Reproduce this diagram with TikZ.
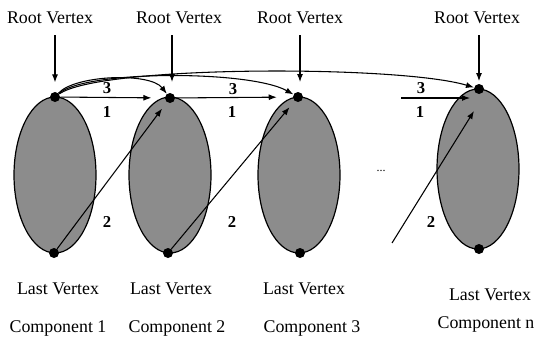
\documentclass[tikz,border=0pt]{standalone}
\usepackage{fontspec}
\setmainfont{Liberation Serif}
\usetikzlibrary{shapes.geometric,arrows.meta}
\begin{document}
\begin{tikzpicture}[x=0.75pt,y=-0.75pt,
  comp/.style={ellipse,draw=black,line width=0.9pt,fill=black!45,minimum width=61.5pt,minimum height=117pt,inner sep=0pt},
  vdot/.style={circle,fill=black,minimum size=7.5pt,inner sep=0pt},
  lbl/.style={font=\fontsize{13.4}{15}\selectfont},
  num/.style={font=\fontsize{12.5}{14}\selectfont\bfseries},
  arr/.style={-{Latex[length=6pt,width=4.5pt]},line width=0.8pt}]
\useasboundingbox (0,0) rectangle (542,339);
% components
\node[comp] (e1) at (55,175) {};
\node[comp] (e2) at (170,175) {};
\node[comp] (e3) at (299,175) {};
\node[comp,minimum height=120pt] (en) at (478,169) {};
% vertices
\node[vdot] (r1) at (55,97) {};
\node[vdot] (r2) at (170,98) {};
\node[vdot] (r3) at (298,97) {};
\node[vdot] (rn) at (479,89) {};
\node[vdot] (l1) at (54,253) {};
\node[vdot] (l2) at (168,253) {};
\node[vdot] (l3) at (300,253) {};
\node[vdot] (ln) at (479,249) {};
% labels
\node[lbl] (rv1) at (50,18) {Root Vertex};
\node[lbl] (rv2) at (179,18) {Root Vertex};
\node[lbl] (rv3) at (300,18) {Root Vertex};
\node[lbl] (rvn) at (477,18) {Root Vertex};
\node[lbl] (lv1) at (58,289) {Last Vertex};
\node[lbl] (lv2) at (171,289) {Last Vertex};
\node[lbl] (lv3) at (304,289) {Last Vertex};
\node[lbl] (lvn) at (490,295) {Last Vertex};
\node[lbl] (c1) at (58,328) {Component 1};
\node[lbl] (c2) at (177,328) {Component 2};
\node[lbl] (c3) at (312,328) {Component 3};
\node[lbl] (cn) at (486,324) {Component n};
\node[font=\fontsize{9}{10}\selectfont] (dots) at (381,171) {...};
% edge labels
\node[num] (k31) at (107,88) {3};
\node[num] (k11) at (107,112) {1};
\node[num] (k32) at (233,89) {3};
\node[num] (k12) at (232,112) {1};
\node[num] (k3n) at (421,88) {3};
\node[num] (k1n) at (420,112) {1};
\node[num] (k21) at (107,222) {2};
\node[num] (k22) at (232,222) {2};
\node[num] (k2n) at (431,222) {2};
% root vertex pointers
\coordinate (t1) at (55,35);
\coordinate (t2) at (172,35);
\coordinate (t3) at (300,35);
\coordinate (tn) at (479,35);
\coordinate (b2) at (172,82);
\coordinate (b3) at (300,82);
\draw[arr,shorten >=7pt] (t1) -- (r1);
\draw[arr] (t2) -- (b2);
\draw[arr] (t3) -- (b3);
\draw[arr,shorten >=2pt] (tn) -- (rn);
% edges 1
\draw[arr,shorten >=10pt] (r1) -- (r2);
\draw[arr,shorten >=12pt] (r2) -- (r3);
\coordinate (h1) at (401,98);
\coordinate (h2) at (470,98);
\draw[arr] (h1) -- (h2);
% edges 3
\draw[arr] (r1) .. controls (75,75) and (150,72) .. (r2);
\draw[arr] (r1) .. controls (85,70) and (250,70) .. (r3);
\draw[arr] (r1) .. controls (100,65) and (400,65) .. (rn);
% edges 2
\draw[arr,shorten >=6pt] (l1) -- (r2);
\draw[arr,shorten >=6pt] (l2) -- (r3);
\coordinate (f) at (392,243);
\coordinate (g) at (474,111);
\draw[arr] (f) -- (g);
\end{tikzpicture}
\end{document}
